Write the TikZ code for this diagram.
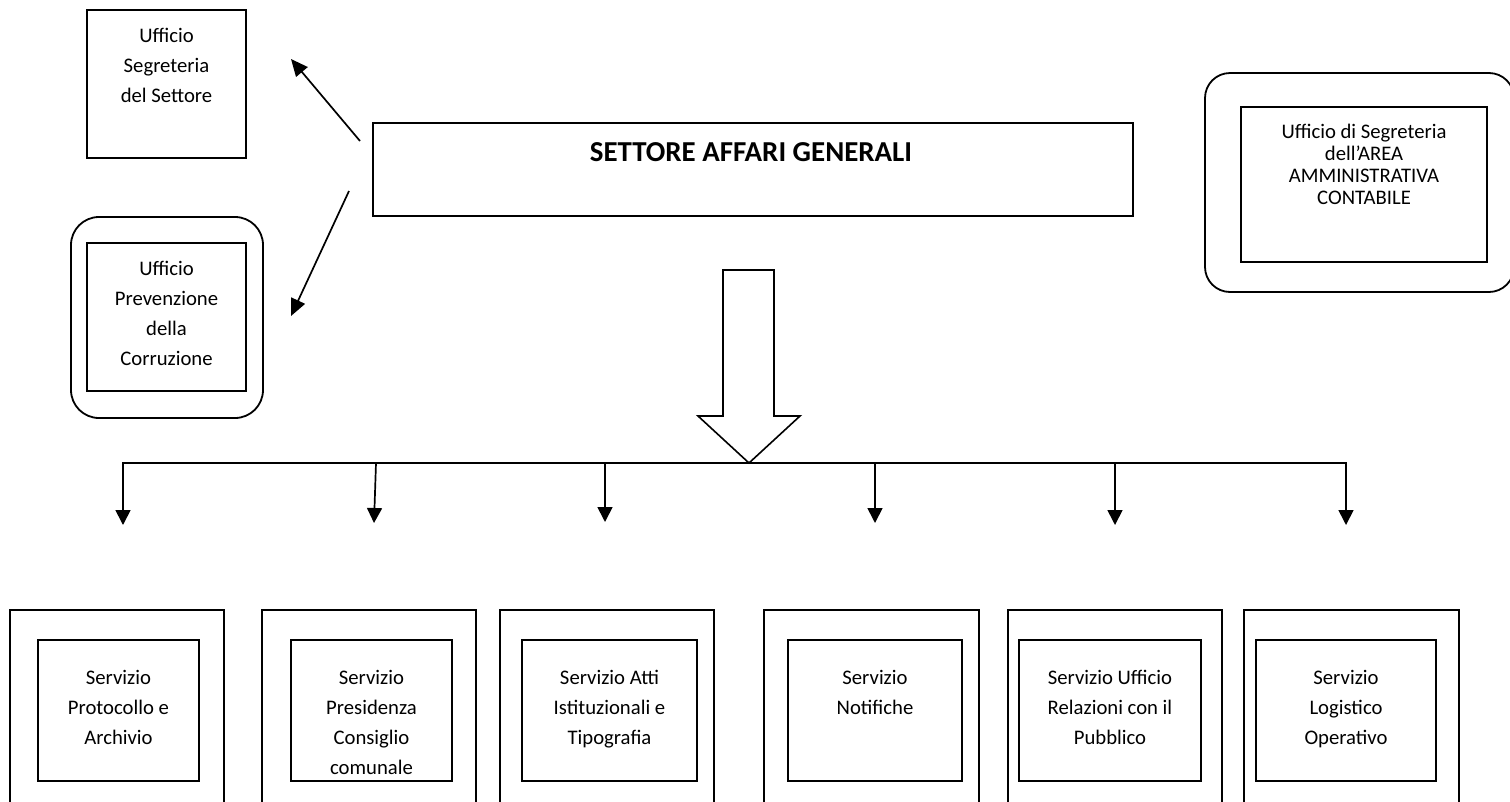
\documentclass[tikz,border=0pt]{standalone}
\usepackage{fontspec}
\setmainfont{Carlito}
\usetikzlibrary{arrows.meta,fit}
\begin{document}
\begin{tikzpicture}[x=1pt,y=-1pt,
  box/.style={draw, line width=1.8pt, inner sep=0pt},
  rbox/.style={draw, line width=1.8pt, inner sep=0pt, rounded corners=28pt},
  txt/.style={inner sep=0pt, anchor=base, font=\fontsize{20.7}{30}\selectfont},
  conn/.style={line width=1.7pt, -{Triangle[length=15pt,width=15pt]}},
  dconn/.style={line width=1.7pt, -{Triangle[length=17pt,width=15pt]}},
  bar/.style={line width=1.7pt, line cap=rect}]
\useasboundingbox (0,0) rectangle (1510,801);
\clip (0,0) rectangle (1510,801);
\fill[white] (0,0) rectangle (1510,801);

% top-left office
\node[box, fit={(87,10) (246,158)}] (segr) {};
\node[txt] (segrT) at (166.5,42) {\parbox[t]{150pt}{\centering Ufficio\\Segreteria\\del Settore}};

% prevention office
\node[rbox, fit={(71,217) (263,418)}] (prevO) {};
\node[box, fit={(87,243) (246,391)}] (prev) {};
\node[txt] (prevT) at (166.5,275.5) {\parbox[t]{150pt}{\centering Ufficio\\Prevenzione\\della\\Corruzione}};

% main sector
\node[box, fit={(373,123) (1133,216)}] (sag) {};
\node[txt, font=\bfseries\fontsize{28.9}{34}\selectfont] (sagT) at (751,161.7) {SETTORE AFFARI GENERALI};

% area office (right)
\node[rbox, rounded corners=25pt, fit={(1205,73) (1514,292)}] (areaO) {};
\node[box, fit={(1241,107) (1487,262)}] (area) {};
\node[txt, font=\fontsize{20.7}{22.3}\selectfont] (areaT) at (1364,138) {\parbox[t]{240pt}{\centering Ufficio di Segreteria\\dell’AREA\\AMMINISTRATIVA\\CONTABILE}};

% diagonal arrows
\coordinate (a1s) at (360,141);
\coordinate (a1e) at (291,59);
\coordinate (a2s) at (349,191);
\coordinate (a2e) at (291,316);
\draw[dconn] (a1s) -- (a1e);
\draw[dconn] (a2s) -- (a2e);

% big hollow arrow
\draw[line width=1.6pt, fill=white, line join=miter]
  (723,270) -- (774,270) -- (774,416) -- (800,416) -- (749,463) -- (698,416) -- (723,416) -- cycle;

% distribution bar
\coordinate (b1) at (123,463);  \coordinate (t1) at (123,525);
\coordinate (b2) at (376,463);  \coordinate (t2) at (374,523);
\coordinate (b3) at (605,463);  \coordinate (t3) at (605,522);
\coordinate (b4) at (875,463);  \coordinate (t4) at (875,523);
\coordinate (b5) at (1115,463); \coordinate (t5) at (1115,525);
\coordinate (b6) at (1346,463); \coordinate (t6) at (1346,525);
\draw[bar] (b1) -- (b6);
\draw[conn] (b1) -- (t1);
\draw[conn] (b2) -- (t2);
\draw[conn] (b3) -- (t3);
\draw[conn] (b4) -- (t4);
\draw[conn] (b5) -- (t5);
\draw[conn] (b6) -- (t6);

% service boxes
\node[box, fit={(10,610) (224,840)}] (o1) {};
\node[box, fit={(38,640) (199,781)}] (s1) {};
\node[txt] (s1T) at (118.5,684) {\parbox[t]{150pt}{\centering Servizio\\Protocollo e\\Archivio}};

\node[box, fit={(262,610) (476,840)}] (o2) {};
\node[box, fit={(291,640) (452,781)}] (s2) {};
\node[txt] (s2T) at (371.5,684) {\parbox[t]{150pt}{\centering Servizio\\Presidenza\\Consiglio\\comunale}};

\node[box, fit={(500,610) (714,840)}] (o3) {};
\node[box, fit={(522,640) (697,781)}] (s3) {};
\node[txt] (s3T) at (609.5,684) {\parbox[t]{170pt}{\centering Servizio Atti\\Istituzionali e\\Tipografia}};

\node[box, fit={(764,610) (979,840)}] (o4) {};
\node[box, fit={(788,640) (962,781)}] (s4) {};
\node[txt] (s4T) at (875,684) {\parbox[t]{170pt}{\centering Servizio\\Notifiche}};

\node[box, fit={(1008,610) (1222,840)}] (o5) {};
\node[box, fit={(1019,640) (1201,781)}] (s5) {};
\node[txt] (s5T) at (1110,684) {\parbox[t]{180pt}{\centering Servizio Ufficio\\Relazioni con il\\Pubblico}};

\node[box, fit={(1244,610) (1459,840)}] (o6) {};
\node[box, fit={(1256,640) (1436,781)}] (s6) {};
\node[txt] (s6T) at (1346,684) {\parbox[t]{170pt}{\centering Servizio\\Logistico\\Operativo}};
\end{tikzpicture}
\end{document}
